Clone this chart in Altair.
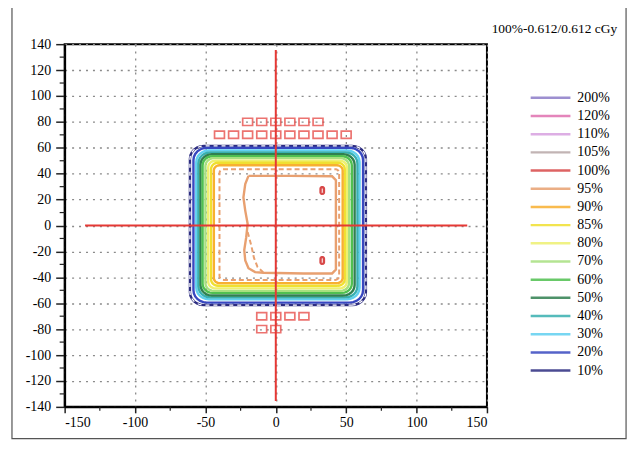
import math
import altair as alt
import pandas as pd

# ---------------- data ----------------
levels = ["200%", "120%", "110%", "105%", "100%", "95%", "90%", "85%", "80%",
          "70%", "60%", "50%", "40%", "30%", "20%", "10%"]
colors = ["#8c7cc8", "#e070b0", "#d8a0e0", "#b8a8a8", "#d84848", "#e8a070",
          "#f8b030", "#f0e030", "#eef070", "#a8e080", "#50c050", "#308050",
          "#38b0b0", "#60d0f0", "#3848c0", "#2c2c80"]

# rounded-rectangle isodose rings (left, right, bottom, top, corner radius)
ring_levels = ["10%", "20%", "30%", "40%", "50%", "60%", "70%", "80%", "85%", "90%"]
ring_left = [-61, -58.5, -56.5, -55, -53.5, -52, -50, -48, -46, -44]
ring_right = [64, 62, 59.5, 58, 56, 54, 52, 50.5, 49, 47.5]
ring_bottom = [-61.5, -59.5, -57, -55.5, -54, -52, -50.5, -48.5, -46.5, -44.5]
ring_top = [61.5, 60, 58, 56.5, 55, 53.5, 52, 50, 48.5, 46.5]
ring_radius = [10, 9.5, 9, 8.5, 8, 7, 6, 5, 5, 4]

# dashed 95% ring
dash_left, dash_right, dash_bottom, dash_top, dash_radius = -40, 45, -42, 43.5, 3

# irregular inner 95% contour
irr_x = [-19.4, -21.7, -23, -21.7, -20, -21, -22.4, -21.7, -19.4, -14.7, -8.8,
         20, 40, 42.7, 42.7, 40, 10, -19.4]
irr_y = [38.3, 32, 21.7, 11.5, 1.3, -9, -19, -27, -33, -36, -36.5,
         -37, -37, -34, 35, 38, 38.3, 38.3]
irr2_x = [-20, -17.5, -15.5, -13, -9]
irr2_y = [-5, -15, -25, -32, -36]

# 100% hot spots (centre x, centre y, half width, half height)
hot_x = [33, 33]
hot_y = [27, -27]
hot_hw = [1.2, 1.2]
hot_hh = [2.6, 2.6]

# red square markers
sq_rows_y = [80, 70, -70, -80]
sq_rows_x = [[-20, -10, 0, 10, 20, 30],
             [-40, -30, -20, -10, 0, 10, 20, 30, 40, 50],
             [-10, 0, 10, 20],
             [-10, 0]]

# red crosshair
v_line = {"x": 0, "y": -135.5, "y2": 135.5}
h_line = {"y": 0, "x": -135.5, "x2": 136}

x_ticks = [-150, -100, -50, 0, 50, 100, 150]
y_ticks = list(range(-140, 141, 20))
x_minor = [-125, -75, -25, 25, 75, 125]
y_minor = list(range(-130, 131, 20))

title_text = "100%-0.612/0.612 cGy"


# ---------------- build tables ----------------
def rounded_rect(x0, x1, y0, y1, r, n=7):
    pts = []
    corners = [(x1 - r, y0 + r, -90), (x1 - r, y1 - r, 0),
               (x0 + r, y1 - r, 90), (x0 + r, y0 + r, 180)]
    for cx, cy, a0 in corners:
        for k in range(n):
            a = math.radians(a0 + 90 * k / (n - 1))
            pts.append((cx + r * math.cos(a), cy + r * math.sin(a)))
    pts.append(pts[0])
    return pts


rows = []
for i, lv in enumerate(ring_levels):
    pts = rounded_rect(ring_left[i], ring_right[i], ring_bottom[i], ring_top[i], ring_radius[i])
    for k, (px, py) in enumerate(pts):
        rows.append({"id": "ring" + lv, "level": lv, "i": k, "x": px, "y": py})
for j in range(len(hot_x)):
    pts = rounded_rect(hot_x[j] - hot_hw[j], hot_x[j] + hot_hw[j],
                       hot_y[j] - hot_hh[j], hot_y[j] + hot_hh[j], hot_hw[j] * 0.99)
    for k, (px, py) in enumerate(pts):
        rows.append({"id": "hot%d" % j, "level": "100%", "i": k, "x": px, "y": py})
for k, (px, py) in enumerate(zip(irr_x, irr_y)):
    rows.append({"id": "irr", "level": "95%", "i": k, "x": px, "y": py})
solid = pd.DataFrame(rows)

drows = []
for k, (px, py) in enumerate(rounded_rect(dash_left, dash_right, dash_bottom, dash_top, dash_radius)):
    drows.append({"id": "dash", "level": "95%", "i": k, "x": px, "y": py})
for k, (px, py) in enumerate(zip(irr2_x, irr2_y)):
    drows.append({"id": "irr2", "level": "95%", "i": k, "x": px, "y": py})
dashed = pd.DataFrame(drows)

white = pd.DataFrame([{"i": k, "x": px, "y": py} for k, (px, py) in
                      enumerate(rounded_rect(ring_left[0], ring_right[0], ring_bottom[0],
                                             ring_top[0], ring_radius[0]))])

squares = pd.DataFrame([{"x": xv, "y": yv} for yv, xs in zip(sq_rows_y, sq_rows_x) for xv in xs])

FONT = "Liberation Serif"
xaxis = alt.Axis(values=x_ticks, title=None, grid=True, labelExpr="'' + datum.value",
                 tickSize=6, labelPadding=3, labelOverlap=False)
yaxis = alt.Axis(values=y_ticks, title=None, grid=True, labelExpr="'' + datum.value",
                 tickSize=9, labelPadding=5, labelOverlap=False)
xscale = alt.Scale(domain=[-150, 150], nice=False, zero=False)
yscale = alt.Scale(domain=[-140, 140], nice=False, zero=False)
cscale = alt.Scale(domain=levels, range=colors)


def X(field="x"):
    return alt.X(field + ":Q", scale=xscale, axis=xaxis)


def Y(field="y"):
    return alt.Y(field + ":Q", scale=yscale, axis=yaxis)


legend = alt.Legend(orient="none", legendX=482, legendY=47, title=None,
                    symbolType="M-4,0H4", symbolSize=100, symbolStrokeWidth=2.5,
                    labelFont=FONT, labelFontSize=14, labelColor="black",
                    labelOffset=20, rowPadding=4.3, symbolOpacity=0.85)

frame = alt.Chart(alt.Data(values=[{}])).mark_rect(
    fillOpacity=0, stroke="#555", strokeWidth=1.2
).encode(x=alt.value(-53), x2=alt.value(565), y=alt.value(-39), y2=alt.value(397))

title_mark = alt.Chart(pd.DataFrame({"t": [title_text]})).mark_text(
    font=FONT, fontSize=13.5, color="black", align="right", baseline="middle"
).encode(text="t:N", x=alt.value(556), y=alt.value(-15))

minor_x = alt.Chart(pd.DataFrame({"x": x_minor})).mark_rule(color="#222", strokeWidth=1.2).encode(
    x=X(), y=alt.value(365), y2=alt.value(369))
minor_y = alt.Chart(pd.DataFrame({"y": y_minor})).mark_rule(color="#222", strokeWidth=1.2).encode(
    y=Y(), x=alt.value(-5), x2=alt.value(0))

solid_lines = alt.Chart(solid).mark_line(strokeWidth=2.4, interpolate="linear").encode(
    x=X(), y=Y(),
    color=alt.Color("level:N", scale=cscale, legend=legend),
    detail="id:N",
    order="i:Q",
)
dashed_lines = alt.Chart(dashed).mark_line(strokeWidth=2, strokeDash=[5, 3]).encode(
    x=X(), y=Y(),
    color=alt.Color("level:N", scale=cscale, legend=legend),
    detail="id:N",
    order="i:Q",
)
white_dash = alt.Chart(white).mark_line(strokeWidth=1.3, strokeDash=[4, 4], color="white").encode(
    x=X(), y=Y(), order="i:Q")

vrule = alt.Chart(pd.DataFrame([v_line])).mark_rule(color="#e53935", strokeWidth=2).encode(
    x=X(), y=Y(), y2="y2:Q")
hrule = alt.Chart(pd.DataFrame([h_line])).mark_rule(color="#e53935", strokeWidth=2).encode(
    y=Y(), x=X(), x2="x2:Q")

sq = alt.Chart(squares).mark_point(
    shape="M-1.5,-1.1H1.5V1.1H-1.5Z", size=44, filled=False, color="#e53935", strokeWidth=1.7
).encode(x=X(), y=Y())

chart = alt.layer(
    frame, title_mark, minor_x, minor_y, solid_lines, white_dash, dashed_lines,
    vrule, hrule, sq
).properties(
    width=425, height=365,
    autosize=alt.AutoSizeParams(type="none"),
    padding={"left": 57, "top": 35, "right": 150, "bottom": 40},
).configure_view(
    stroke="black", strokeWidth=2
).configure_axis(
    labelFont=FONT, labelFontSize=14, labelColor="black", labelOverlap=False,
    domainColor="black", domainWidth=2, tickColor="#222", tickWidth=1.5,
    gridColor="#8a8a8a", gridDash=[2, 5], gridWidth=1.3,
)

chart.save("out.html", embed_options={"renderer": "svg", "actions": False})
